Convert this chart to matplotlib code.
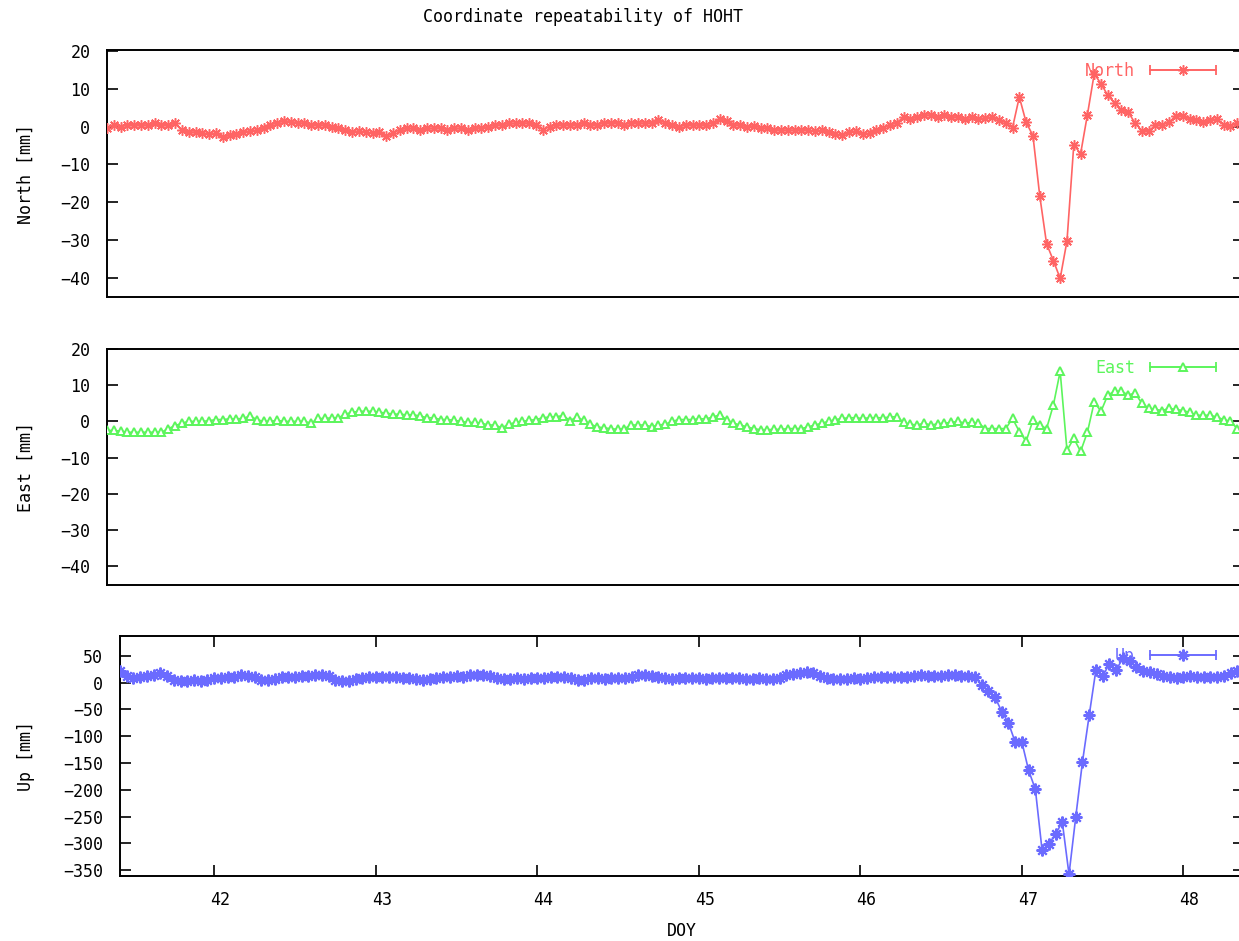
import numpy as np
import matplotlib
matplotlib.use("Agg")
import matplotlib.pyplot as plt
import matplotlib.transforms as mtransforms
from matplotlib.lines import Line2D
from matplotlib.collections import LineCollection
from matplotlib.container import ErrorbarContainer
from matplotlib.legend_handler import HandlerErrorbar

plt.rcParams['font.family'] = ['DejaVu Sans Mono', 'DejaVu Sans']

# ---------------- data (hourly solutions, DOY 41 10:00 .. DOY 48 09:00) ----------------
hours = np.arange(168)
doy = 41 + (10 + hours) / 24.0

north = [
    -0.5, 0.5, 0, 0.5, 0.5, 0.5, 0.3, 0.8, 0.5, 0.5, 0.8,
    -1, -1.5, -1.5, -1.7, -2, -1.8, -2.8,
    -2.3, -2, -1.5, -1.2, -1, -0.5, 0.5,
    1, 1.5, 1.3, 1, 0.8, 0.5, 0.5, 0.3, 0, -0.5,
    -1, -1.5, -1.2, -1.5, -1.8, -1.5, -2.6, -1.8,
    -0.8, -0.5, -0.5, -1, -0.5, -0.5, -0.3, -0.8, -0.5, -0.5, -1, -0.5, -0.3, 0,
    0.3, 0.5, 0.8, 0.8, 1, 0.8, 0.5, -0.8,
    0, 0.5, 0.3, 0.5, 0.5, 0.8, 0.5, 0.5, 1, 1, 1, 0.5, 1, 1, 0.8, 1,
    1.6, 1, 0.3, 0, 0.5, 0.5, 0.3, 0.5, 1, 2, 1.5,
    0.5, 0.3, 0, 0.2, -0.3,
    -0.5, -0.8, -1, -1, -1, -0.8, -1, -1.3, -1,
    -1.5, -2, -2.3, -1.5, -1.2, -2, -1.8, -1, -0.5,
    0.5, 1, 2.5, 2, 2.5, 3, 3, 2.5, 3, 2.5, 2.5, 2, 2.5,
    2, 2.3, 2.5, 1.8, 1.0, -0.3,
    7.8, 1.1, -2.4, -18.3, -30.9, -35.4, -40.1, -30.2, -4.8, -7.2,
    3.1, 13.9, 11.3, 8.2, 6.2, 4.4, 3.8, 0.9, -1.1, -1.1,
    0.3, 0.5, 1.1, 2.9, 2.9, 2.0, 1.6, 1.1, 1.6, 2.0, 0.5, 0.1, 1.0, 1.0,
]

east = [
    -2.5, -2.5, -2.7, -3, -3, -3, -3, -3, -3, -2, -1.2, -0.5,
    0, 0, 0, 0.2, 0.5, 0.5, 0.7, 0.7, 0.8, 1.5,
    0.5, 0, 0, 0.3, 0, 0, 0, 0, -0.5, 0.8, 0.8, 1, 1,
    2, 2.5, 2.8, 2.8, 2.8, 2.5, 2.3, 2, 2, 1.8, 1.8,
    1.5, 1, 1, 0.5, 0.5, 0.3, 0, -0.3, -0.3, -0.5, -1, -1, -1.8,
    -0.8, -0.3, 0, 0.3, 0.5, 1, 1.2, 1.3, 1.6, 0.2, 1.2,
    0.3, -0.8, -1.5, -1.8, -2, -2.2, -2, -1, -1, -1, -1.5, -1, -0.8,
    0, 0.5, 0.5, 0.5, 0.7, 0.7, 1.2, 1.8, 0.5, -0.5, -1, -1.5,
    -2, -2.3, -2.3, -2.2, -2.2, -2, -2, -2, -1.5, -1, -0.5, 0,
    0.5, 0.8, 1, 1, 0.8, 1, 1, 1, 1.2, 1.3,
    -0.3, -0.8, -1, -0.5, -1, -0.7, -0.5, -0.3, 0, -0.5, -0.3, -0.5,
    -2, -2, -2, -2,
    0.8, -2.8, -5.5, 0.3, -1, -2, 4.5, 13.8, -8, -4.7, -8.3, -3,
    5.3, 2.8, 7.3, 8.3, 8.3, 7.3, 7.8, 5, 3.6, 3.3, 3, 3.6, 3.3, 3,
    2.5, 1.7, 1.7, 1.7, 1.2, 0.5, 0, -2, -2,
]

up = [
    21, 12, 8, 10, 12, 14, 17, 12, 5, 3, 3, 4, 3, 5, 8, 9, 10,
    11, 14, 13, 10, 5, 4, 6, 10, 11, 11, 12, 13, 14, 14, 12,
    5, 3, 3, 6, 9, 10, 10, 10, 11, 10, 9, 8, 6, 5, 6, 8,
    11, 11, 12, 11, 14, 15, 14, 12, 8, 7, 7, 8, 7, 8, 9, 8,
    10, 11, 11, 9, 4, 5, 8, 8, 7, 9, 8, 8, 10, 14, 14, 13, 10,
    8, 6, 8, 9, 9, 8, 7, 9, 9, 8, 9, 8, 6, 7, 8, 6, 6, 8,
    14, 16, 18, 19, 17, 13, 8, 7, 7, 7, 8, 7, 8,
    10, 11, 11, 11, 10, 11, 13, 14, 13, 12, 13, 14, 14, 13, 13, 11,
    -4, -15, -27, -54, -75, -111, -111, -164, -199, -313, -301, -283,
    -260, -358, -251, -148, -61, 24, 12, 35, 24, 45, 41, 29, 22, 20,
    16, 13, 10, 8, 10, 13, 10, 10, 10, 10, 13, 17, 21, 22,
]

title = "Coordinate repeatability of HOHT"
xticks = [42, 43, 44, 45, 46, 47, 48]
ne_yticks = [-40, -30, -20, -10, 0, 10, 20]
up_yticks = [-350, -300, -250, -200, -150, -100, -50, 0, 50]

# ---------------- layout ----------------
W, H = 1239, 941
fig = plt.figure(figsize=(W / 100, H / 100), dpi=100)


def box(l, t, r, b):
    return [l / W, 1 - b / H, (r - l) / W, (b - t) / H]


panels = [
    dict(rect=(107, 50, 1244, 297), data=north, label="North", ylabel="North [mm]",
         color="#ff6464", marker=(8, 2, 0), ms=7.5, mew=1.1, mfc="none",
         ylim=(-45, 20.2), yticks=ne_yticks),
    dict(rect=(107, 349, 1244, 585), data=east, label="East", ylabel="East [mm]",
         color="#5cf55c", marker="^", ms=5.5, mew=1.4, mfc="white",
         ylim=(-45.2, 20), yticks=ne_yticks),
    dict(rect=(120, 636, 1244, 876), data=up, label="Up", ylabel="Up [mm]",
         color="#6b6bff", marker=(8, 2, 0), ms=8.5, mew=1.5, mfc="none",
         ylim=(-361, 87), yticks=up_yticks),
]

FS = 12
for k, p in enumerate(panels):
    l, t, r, b = p["rect"]
    ax = fig.add_axes(box(l, t, r, b))
    c = p["color"]
    ax.plot(doy, p["data"], color=c, lw=1.2, marker=p["marker"], ms=p["ms"],
            mew=p["mew"], mfc=p["mfc"], mec=c, zorder=3)
    ax.set_xlim(doy[0], doy[-1])
    ax.set_ylim(*p["ylim"])
    ax.set_yticks(p["yticks"])
    ax.tick_params(axis="y", direction="in", length=8, width=1.2, left=True,
                   right=True, labelsize=FS, pad=12)
    for s in ax.spines.values():
        s.set_linewidth(1.4)
    if k < 2:
        ax.tick_params(axis="x", bottom=False, labelbottom=False)
    else:
        ax.set_xticks(xticks)
        ax.tick_params(axis="x", direction="in", length=8, width=1.2, top=True,
                       bottom=True, labelsize=FS, pad=11)
        shift = mtransforms.ScaledTranslation(6 / 100, 0, fig.dpi_scale_trans)
        for lab in ax.get_xticklabels():
            lab.set_transform(lab.get_transform() + shift)
        ax.set_xlabel("DOY", fontsize=FS, va="top")
        ax.xaxis.set_label_coords(0.5, -(922 - b) / (b - t))
    ax.set_ylabel(p["ylabel"], fontsize=FS)
    ax.yaxis.set_label_coords((35 - l) / (r - l), 0.5)

    # legend in gnuplot style: label, then line with end caps and point
    line = Line2D([], [], color=c, lw=1.2, marker=p["marker"], ms=p["ms"],
                  mew=p["mew"], mfc=p["mfc"], mec=c)
    cap = Line2D([], [], color=c, marker="|", ms=7, mew=1.3, ls="none")
    bars = LineCollection([], colors=[c], linewidths=1.2)
    cont = ErrorbarContainer((line, (cap,), (bars,)), has_xerr=True,
                             has_yerr=False, label=p["label"])
    hl = 66 / (FS * 100 / 72)
    ly = {0: 71, 1: 368, 2: 656}[k]
    leg = ax.legend(handles=[cont], loc="center right",
                    bbox_to_anchor=((1216 - l) / (r - l), (b - ly) / (b - t)),
                    frameon=False, markerfirst=False, handlelength=hl,
                    handletextpad=0.9, borderpad=0, borderaxespad=0,
                    fontsize=FS, numpoints=1,
                    handler_map={ErrorbarContainer: HandlerErrorbar(xerr_size=hl / 2)})
    leg.get_texts()[0].set_color(c)
    leg.set_zorder(2)

fig.text(583 / W, 1 - 17 / H, title, ha="center", va="center", fontsize=FS)

fig.savefig("out.png", dpi=100)
